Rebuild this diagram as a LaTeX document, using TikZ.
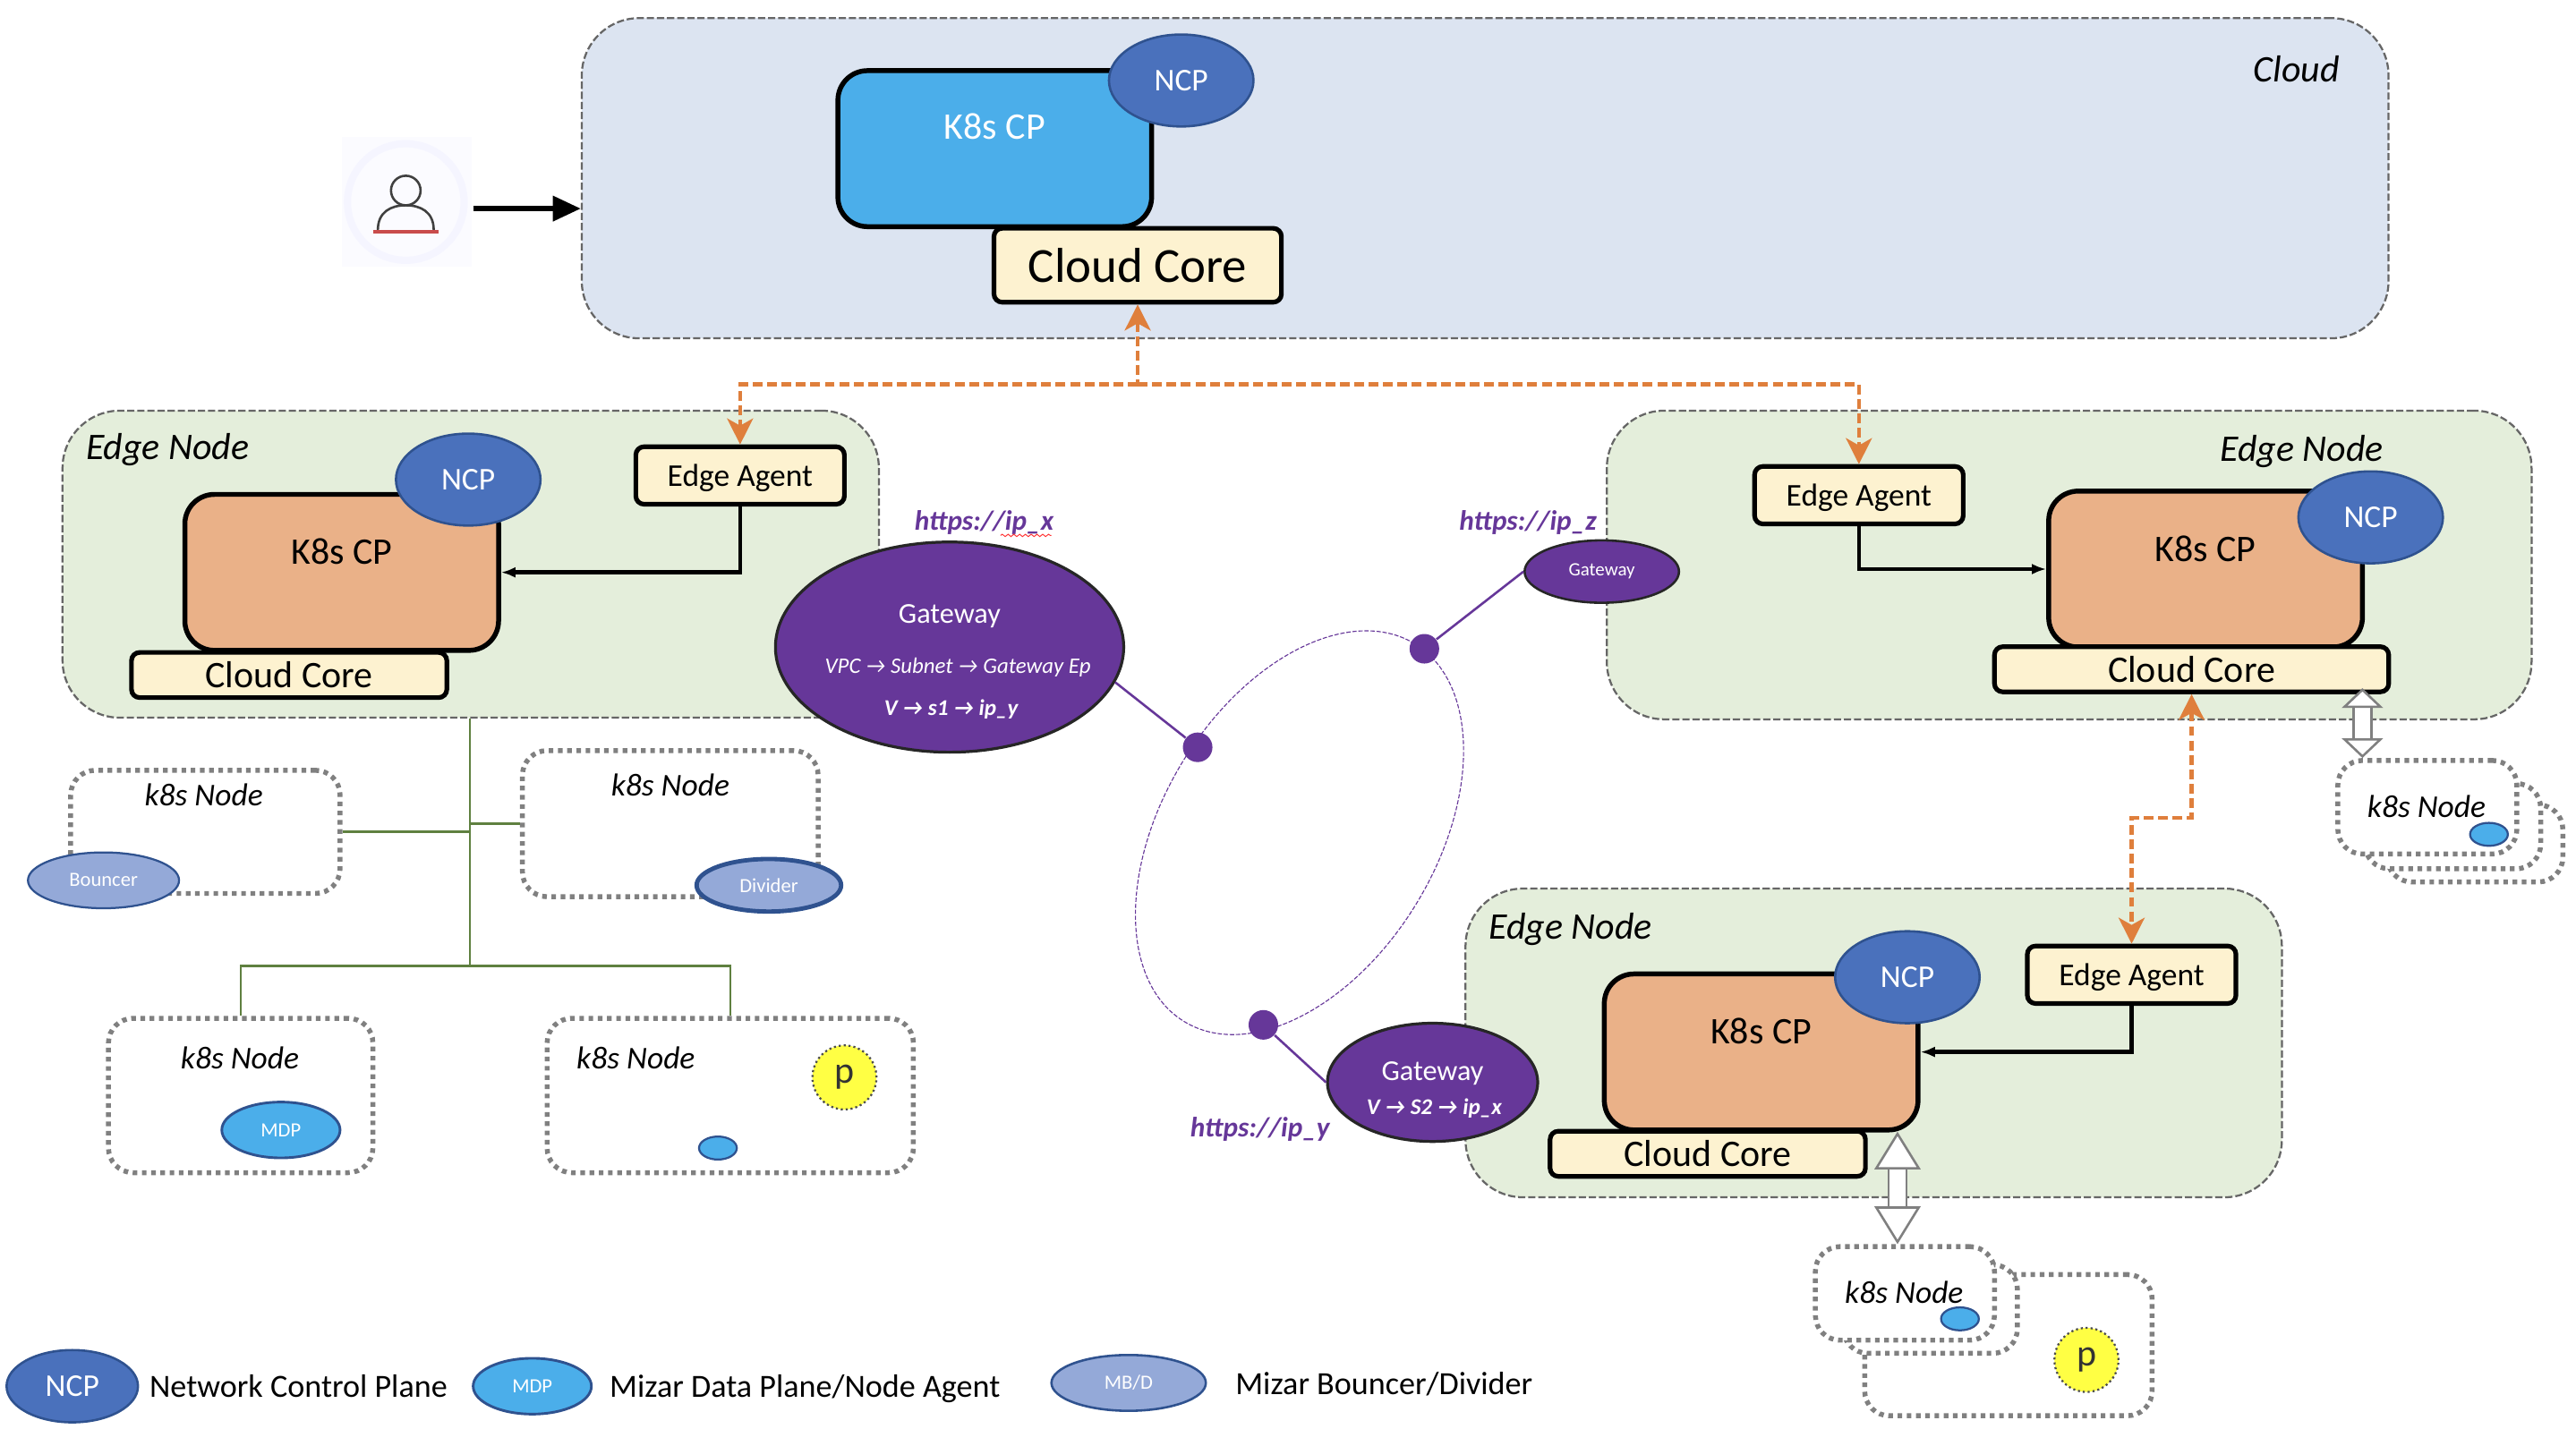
\documentclass[tikz,border=0pt]{standalone}
\usepackage{fontspec}
\setmainfont{Carlito}
\usepackage{xcolor}
\usetikzlibrary{arrows.meta,positioning,shapes.geometric,decorations.pathmorphing}
\definecolor{cloudbg}{HTML}{DCE4F1}
\definecolor{edgebg}{HTML}{E4EEDB}
\definecolor{cpblue}{HTML}{4BAEEA}
\definecolor{cporange}{HTML}{EAB188}
\definecolor{corebg}{HTML}{FDF2D0}
\definecolor{ncpblue}{HTML}{4A71BC}
\definecolor{ncpline}{HTML}{2F528F}
\definecolor{mbblue}{HTML}{94A9D8}
\definecolor{gwpurple}{HTML}{663799}
\definecolor{linkorange}{HTML}{DF7F3C}
\definecolor{treegreen}{HTML}{5F8040}
\definecolor{podyellow}{HTML}{FFFF44}
\begin{document}
\begin{tikzpicture}[x=.02cm,y=-.02cm,
  every node/.style={font=\fontsize{11}{13}\selectfont, inner sep=0pt},
  region/.style={draw=black!60, rounded corners=7mm, line width=.7pt,
                 dash pattern=on 2.5pt off 1pt},
  cpbox/.style={draw, rounded corners=3.6mm, line width=1.7pt, fill=cporange,
                minimum width=3.82cm, minimum height=1.9cm},
  corebox/.style={draw, rounded corners=1mm, line width=1.6pt, fill=corebg,
                  font=\fontsize{13}{15}\selectfont, minimum width=3.84cm, minimum height=.55cm},
  agentbox/.style={draw, rounded corners=1mm, line width=1.6pt, fill=corebg, text depth=0pt,
                   minimum width=2.54cm, minimum height=.7cm},
  ncp/.style={ellipse, draw=ncpline, line width=.8pt, fill=ncpblue, text=white,
              minimum width=1.76cm, minimum height=1.12cm},
  mdp/.style={ellipse, draw=ncpline, line width=.9pt, fill=cpblue, text=white,
              font=\fontsize{7}{8}\selectfont, minimum width=1.44cm, minimum height=.68cm},
  mb/.style={ellipse, draw=ncpline, line width=.8pt, fill=mbblue, text=white,
             font=\fontsize{7}{8}\selectfont, minimum width=1.88cm, minimum height=.68cm},
  dotblue/.style={ellipse, draw=ncpline, line width=.7pt, fill=cpblue,
                  minimum width=.46cm, minimum height=.28cm},
  pod/.style={circle, draw=black!70, densely dotted, line width=.7pt, fill=podyellow,
              text=black!80, font=\fontsize{13}{15}\selectfont, minimum size=.78cm},
  k8snode/.style={draw=black!50, rounded corners=3mm, line width=1.7pt, fill=white,
                  dash pattern=on 1.6pt off 1.6pt},
  gateway/.style={ellipse, draw=black!85, line width=1pt, fill=gwpurple},
  gwname/.style={text=white, text depth=0pt, font=\fontsize{10}{12}\selectfont},
  gwtext/.style={text=white, text depth=0pt, font=\fontsize{7.8}{9}\selectfont\bfseries\itshape},
  url/.style={text=gwpurple, text depth=0pt, font=\fontsize{9.7}{11}\selectfont\bfseries\itshape},
  junction/.style={circle, fill=gwpurple, minimum size=.36cm},
  title/.style={text depth=0pt, font=\fontsize{13}{15}\selectfont\itshape},
  nodetitle/.style={font=\fontsize{11}{13}\selectfont\itshape},
  legendtext/.style={text depth=0pt, font=\fontsize{11.2}{13}\selectfont},
  arr/.style={-{Latex[length=5pt]}, line width=1.4pt},
  oarr/.style={draw=linkorange, line width=1.3pt, dash pattern=on 3.4pt off 1.6pt},
  otip/.tip={Stealth[length=9pt,width=9pt,inset=2.5pt,fill=linkorange]},
  greenln/.style={draw=treegreen, line width=.8pt},
  fatarr/.style={draw=black!50, double=white, double distance=1.9mm, line width=.8pt},
  fattip/.tip={Triangle[length=2.4mm,width=5mm,fill=white]},
  longtip/.tip={Triangle[length=4.6mm,width=5.6mm,fill=white]},
]
\useasboundingbox (0,0) rectangle (1568,880);
% User icon
\node[fill=blue!1.5, minimum size=1.58cm] (user) at (247.5,123) {};
\node[circle, draw=blue!4, line width=2.5pt, minimum size=1.42cm] (userring) at (247,123) {};
\draw[black!75, line width=.8pt] (247,116) circle (9);
\draw[black!75, line width=.8pt] (230,140) .. controls (230,129) and (238,125) .. (247,125)
  .. controls (256,125) and (264,129) .. (264,140);
\draw[red!70!black!70, line width=1.2pt] (227,141) -- (267,141);

% Cloud
\node[region, fill=cloudbg, minimum width=22cm, minimum height=3.9cm] (cloud) at (904,108.5) {};
\node[title] (cloudname) at (1398,42) {Cloud};
\node[cpbox, fill=cpblue, label={[text=white, font=\fontsize{13}{15}\selectfont, yshift=2.7mm]center:K8s CP}] (cp0) at (605.5,90.5) {};
\node[ncp] (ncp0) at (719,49) {NCP};
\node[corebox, font=\fontsize{17}{19}\selectfont, minimum width=3.5cm, minimum height=.9cm] (core0) at (692.5,161.5) {Cloud Core};

% Edge node, left
\node[region, fill=edgebg, minimum width=9.94cm, minimum height=3.74cm] (edge1) at (286.5,343.5) {};
\node[title] (edge1name) at (102,272) {Edge Node};
\node[cpbox, label={[font=\fontsize{13}{15}\selectfont, yshift=2.5mm]center:K8s CP}] (cp1) at (208,348.5) {};
\node[ncp] (ncp1) at (285,292) {NCP};
\node[corebox] (core1) at (176,411) {Cloud Core};
\node[agentbox] (agent1) at (450.5,289.5) {Edge Agent};

% Edge node, right
\node[region, fill=edgebg, minimum width=11.26cm, minimum height=3.76cm] (edge2) at (1259.5,344) {};
\node[title] (edge2name) at (1401,273) {Edge Node};
\node[cpbox, label={[font=\fontsize{13}{15}\selectfont, yshift=2.5mm]center:K8s CP}] (cp2) at (1342.5,346.5) {};
\node[ncp] (ncp2) at (1443,315) {NCP};
\node[corebox, minimum width=4.8cm] (core2) at (1334,407.5) {Cloud Core};
\node[agentbox] (agent2) at (1131.5,301.5) {Edge Agent};

% Edge node, bottom
\node[region, fill=edgebg, minimum width=9.94cm, minimum height=3.76cm] (edge3) at (1140.5,635) {};
\node[title] (edge3name) at (956,564) {Edge Node};
\node[cpbox, label={[font=\fontsize{13}{15}\selectfont, yshift=2.5mm]center:K8s CP}] (cp3) at (1072,640.5) {};
\node[ncp] (ncp3) at (1161,595) {NCP};
\node[corebox] (core3) at (1039.5,702.5) {Cloud Core};
\node[agentbox] (agent3) at (1297.5,593.5) {Edge Agent};

% k8s nodes under the left edge node
\node[k8snode, minimum width=3.28cm, minimum height=1.5cm] (n1) at (125,506.5) {};
\node[nodetitle] (n1name) at (124,484) {k8s Node};
\node[mb, line width=.7pt, minimum width=1.84cm] (bouncer) at (63,536) {Bouncer};
\node[k8snode, minimum width=3.6cm, minimum height=1.78cm] (n2) at (408,501.5) {};
\node[nodetitle] (n2name) at (408,478) {k8s Node};
\node[mb, line width=1.5pt, minimum width=1.76cm, minimum height=.64cm] (divider) at (468,539) {Divider};
\node[k8snode, minimum width=3.22cm, minimum height=1.88cm] (n3) at (146.5,667) {};
\node[nodetitle] (n3name) at (146,644) {k8s Node};
\node[mdp] (mdp3) at (171,688) {MDP};
\node[k8snode, minimum width=4.46cm, minimum height=1.88cm] (n4) at (444.5,667) {};
\node[nodetitle] (n4name) at (387,644) {k8s Node};
\node[pod] (pod4) at (514,656) {p};
\node[dotblue] (dot4) at (437,699) {};

% Tree of green lines
\coordinate (treetop) at (286,437);
\coordinate (treebot) at (286,588);
\draw[greenln] (edge1.south -| treetop) -- (treebot);
\draw[greenln] (n1.east) -- (n1.east -| treetop);
\draw[greenln] (n2.west) -- (n2.west -| treetop);
\draw[greenln] (n3.north) |- (treebot);
\draw[greenln] (n4.north) |- (treebot);

% k8s stack, right
\node[k8snode, minimum width=2.14cm, minimum height=.94cm] (n5c) at (1506.5,513.5) {};
\node[k8snode, minimum width=2.14cm, minimum height=1.04cm] (n5b) at (1493,503) {};
\node[k8snode, minimum width=2.18cm, minimum height=1.14cm] (n5) at (1477.5,491.5) {};
\node[nodetitle] (n5name) at (1477,491) {k8s Node};
\node[dotblue] (dot5) at (1515,508) {};

% k8s stack, bottom
\node[k8snode, minimum width=3.5cm, minimum height=1.72cm] (n6c) at (1222.5,819) {};
\node[pod] (pod6) at (1270,828) {p};
\node[k8snode, minimum width=2.12cm, minimum height=1.08cm] (n6b) at (1175,797) {};
\node[k8snode, minimum width=2.18cm, minimum height=1.14cm] (n6) at (1159.5,787.5) {};
\node[nodetitle] (n6name) at (1159,787) {k8s Node};
\node[dotblue] (dot6) at (1193,803) {};

% Gateways
\node[gateway, minimum width=4.24cm, minimum height=2.56cm] (gwx) at (578,394) {};
\node[gwname] (gwxname) at (578,374) {Gateway};
\node[gwtext, font=\fontsize{7.7}{9}\selectfont\itshape] (gwxvpc) at (583,405) {VPC → Subnet → Gateway Ep};
\node[gwtext] (gwxvs) at (579,431) {V → s1 → ip\_y};
\node[url] (urlx) at (599,317) {https://ip\_x};
\draw[red!80, line width=.3pt, decorate, decoration={snake, amplitude=.4pt, segment length=2pt}] (609,326) -- (640,326);
\node[gateway, line width=.8pt, minimum width=1.88cm, minimum height=.76cm, text=white, font=\fontsize{6.5}{8}\selectfont] (gwz) at (975,348) {Gateway};
\node[url] (urlz) at (930,317) {https://ip\_z};
\node[gateway, minimum width=2.56cm, minimum height=1.44cm] (gwy) at (872,659) {};
\node[gwname] (gwyname) at (872,652) {Gateway};
\node[gwtext] (gwyvs) at (873,674) {V → S2 → ip\_x};
\node[url] (urly) at (767,686) {https://ip\_y};

% Ring and its junctions
\node[ellipse, draw=gwpurple, line width=.35pt, dash pattern=on 1.5pt off .6pt, rotate=58.6,
      minimum width=5.39cm, minimum height=3.33cm] (ring) at (791,507) {};
\node[junction] (jx) at (729,455) {};
\node[junction] (jz) at (867,395) {};
\node[junction] (jy) at (769,624) {};
\draw[gwpurple, line width=.8pt] (gwx.-12) -- (jx);
\draw[gwpurple, line width=.8pt] (gwz.west) -- (jz);
\draw[gwpurple, line width=.8pt] (gwy.west) -- (jy);

% Arrows
\coordinate (userout) at (288,127);
\draw[-{Triangle[length=3.4mm,width=3mm]}, line width=1.7pt] (userout) -- (userout -| cloud.west);
\draw[arr] (agent1.south) |- (cp1.east);
\draw[arr] (agent2.south) |- (cp2.west);
\draw[arr] (agent3.south) |- (cp3.east);

% Links between cores and agents
\coordinate (bus) at (692.5,234);
\coordinate (link) at (1315,498);
\draw[oarr, {otip}-] (core0.south) -- (bus);
\draw[oarr, -{otip}] (bus) -| (agent1.north);
\draw[oarr, -{otip}] (bus) -| (agent2.north);
\draw[oarr, {otip}-{otip}] (core2.south) |- (link) -| (agent3.north);

% Hollow arrows to the stacks
\coordinate (fat2) at (1438,419);
\coordinate (fat3) at (1155,689);
\draw[fatarr, {fattip}-{fattip}] (fat2) -- (fat2 |- n5.north);
\draw[fatarr, {longtip}-{longtip}] (fat3) -- (fat3 |- n6.north);

% Legend
\node[ncp, minimum width=1.6cm, minimum height=.88cm] (lncp) at (44,844) {NCP};
\node[legendtext, right=.12cm of lncp] (lncptext) {Network Control Plane};
\node[mdp] (lmdp) at (324,844) {MDP};
\node[legendtext, right=.2cm of lmdp] (lmdptext) {Mizar Data Plane/Node Agent};
\node[mb] (lmb) at (687,842) {MB/D};
\node[legendtext, right=.34cm of lmb] (lmbtext) {Mizar Bouncer/Divider};
\end{tikzpicture}
\end{document}
